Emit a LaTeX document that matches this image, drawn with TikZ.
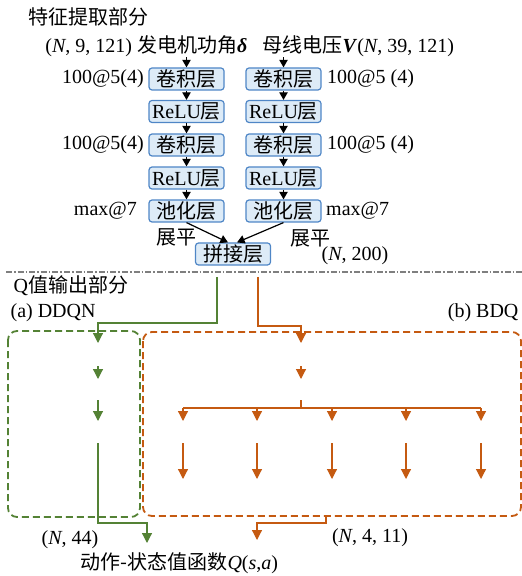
\documentclass[tikz,border=0pt]{standalone}
\usepackage{fontspec}
\setmainfont{Liberation Serif}
\newfontfamily\zhfont{Noto Sans CJK SC}
\newcommand{\zh}[1]{{\zhfont #1}}
\usetikzlibrary{arrows.meta, positioning, calc}
\definecolor{cblue}{HTML}{4F86C6}
\definecolor{cfill}{HTML}{DDEBF7}
\definecolor{cgreen}{HTML}{548235}
\definecolor{corange}{HTML}{C55A11}
\definecolor{cgrey}{HTML}{7F7F7F}
\tikzset{
  every picture/.style={font=\fontsize{10}{12}\selectfont, line width=0.6pt},
  layer/.style={draw=cblue, fill=cfill, rounded corners=1.5pt, minimum width=37.5pt, minimum height=11pt, inner sep=0pt},
  arrow/.style={-{Triangle[length=3.8pt, width=4.2pt]}, draw=black},
  garrow/.style={-{Triangle[length=5pt, width=5pt]}, draw=cgreen},
  oarrow/.style={-{Triangle[length=5pt, width=5pt]}, draw=corange},
  region/.style={dash pattern=on 3.5pt off 2pt, rounded corners=4.5pt, line width=0.9pt},
  lbl/.style={inner sep=0pt},
}

\begin{document}
\begin{tikzpicture}[x=0.5pt, y=-0.5pt]
  \useasboundingbox (0,0) rectangle (522,576);
  % feature extraction part
  \node[lbl, anchor=west] (ftitle) at (28,17) {\zh{特征提取部分}};
  \node[lbl, anchor=east] (inL) at (248,46) {(\textit{N}, 9, 121) \zh{发电机功角}\textbf{\textit{δ}}};
  \node[lbl, anchor=west] (inR) at (262,46) {\zh{母线电压}\textbf{\textit{V}}(\textit{N}, 39, 121)};
  \foreach \c/\x in {L/186.5, R/283.5} {
    \node[layer] (\c1) at (\x, 79) {\zh{卷积层}};
    \node[layer] (\c2) at (\x, 111.5) {ReLU\zh{层}};
    \node[layer] (\c3) at (\x, 145) {\zh{卷积层}};
    \node[layer] (\c4) at (\x, 178) {ReLU\zh{层}};
    \node[layer] (\c5) at (\x, 211) {\zh{池化层}};
  }
  \draw[arrow] (inL.south -| L1) -- (L1);
  \draw[arrow] (inR.south -| R1) -- (R1);
  \foreach \c in {L,R} \foreach \i/\j in {1/2,2/3,3/4,4/5} \draw[arrow] (\c\i) -- (\c\j);
  \foreach \i in {1,3} {
    \node[lbl, left=2pt of L\i] (kL\i) {100@5(4)};
    \node[lbl, right=2.5pt of R\i] (kR\i) {100@5 (4)};
  }
  \node[lbl, left=5.5pt of L5] (mL) {max@7};
  \node[lbl, right=2pt of R5] (mR) {max@7};
  \node[layer] (cat) at (233,254) {\zh{拼接层}};
  \draw[arrow] (L5.south) -- ([xshift=-2.5pt]cat.north);
  \draw[arrow] (R5.south) -- ([xshift=2pt]cat.north);
  \node[lbl] (flatL) at (176,237) {\zh{展平}};
  \node[lbl] (flatR) at (310,238) {\zh{展平}};
  \node[lbl] (catdim) at (355,256) {(\textit{N}, 200)};
  % separator
  \coordinate (sepL) at (6,272);
  \coordinate (sepR) at (522,272);
  \draw[cgrey, line width=0.75pt, dash pattern=on 3pt off 1pt on 0.8pt off 1pt] (sepL) -- (sepR);
  % Q value output part
  \node[lbl, anchor=west] (qtitle) at (13,286) {Q\zh{值输出部分}};
  \node[lbl, anchor=west] (ddqn) at (10,313) {(a) DDQN};
  \node[lbl, anchor=east] (bdq) at (519,313) {(b) BDQ};
  \draw[region, cgreen] (8,331) rectangle (140,517);
  \draw[region, corange] (143,332) rectangle (521,516);
  % DDQN branch
  \coordinate (gS) at (217,277);
  \coordinate (g1) at (98,343);
  \coordinate (g2a) at (98,366);
  \coordinate (g2b) at (98,379);
  \coordinate (g3a) at (98,400);
  \coordinate (g3b) at (98,421);
  \coordinate (g4) at (98,443);
  \coordinate (qout) at (147,543);
  \draw[garrow] (gS) -- ++(0,46) -| (g1);
  \draw[garrow] (g2a) -- (g2b);
  \draw[garrow] (g3a) -- (g3b);
  \draw[garrow] (g4) -- ++(0,80) -| (qout);
  % BDQ branch
  \coordinate (oS) at (258,277);
  \coordinate (o1) at (301,343);
  \coordinate (o2a) at (301,366);
  \coordinate (o2b) at (301,379);
  \coordinate (oB) at (301,400);
  \coordinate (oE) at (326,516);
  \coordinate (qout2) at (257,540);
  \draw[oarrow] (oS) -- ++(0,49) -| (o1);
  \draw[oarrow] (o2a) -- (o2b);
  \foreach \k/\x in {1/183, 2/257, 3/332, 4/406, 5/481} {
    \coordinate (h\k) at (\x,408);
    \coordinate (t\k) at (\x,421);
    \coordinate (u\k) at (\x,443);
    \coordinate (v\k) at (\x,479);
  }
  \draw[corange] (oB) -- (oB |- h1);
  \draw[corange] (h1) -- (h5);
  \foreach \k in {1,...,5} {
    \draw[oarrow] (h\k) -- (t\k);
    \draw[oarrow] (u\k) -- (v\k);
  }
  \draw[oarrow] (oE) -- ++(0,7) -| (qout2);
  \node[lbl] (gdim) at (70,540) {(\textit{N}, 44)};
  \node[lbl] (odim) at (370,538) {(\textit{N}, 4, 11)};
  \node[lbl, anchor=west] (qsa) at (80,563) {\zh{动作-状态值函数}\textit{Q}(\textit{s},\textit{a})};
\end{tikzpicture}
\end{document}
